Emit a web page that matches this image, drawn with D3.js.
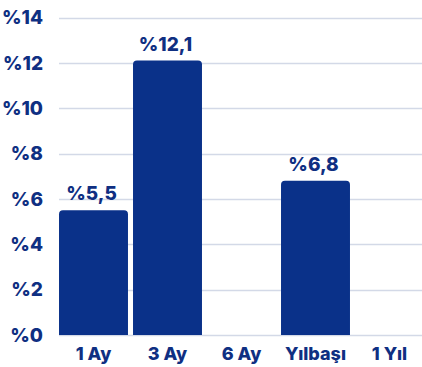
<!DOCTYPE html>
<html>
<head>
<meta charset="utf-8">
<script src="https://cdn.jsdelivr.net/npm/d3@7"></script>
<style>
  html, body { margin: 0; padding: 0; background: #fff; }
  svg { display: block; }
  text { font-family: Inter, "Open Sans", sans-serif; font-weight: 800; fill: #0f2f82; }
</style>
</head>
<body>
<svg id="chart" width="422" height="367"></svg>
<script>
// Periods and returns (percent); null means no value for that period
const categories = ["1 Ay", "3 Ay", "6 Ay", "Yılbaşı", "1 Yıl"];
const values = [5.5, 12.1, null, 6.8, null];
const valueLabels = ["%5,5", "%12,1", "", "%6,8", ""];
const yTicks = [0, 2, 4, 6, 8, 10, 12, 14];
const yTickLabels = ["%0", "%2", "%4", "%6", "%8", "%10", "%12", "%14"];

const svg = d3.select("#chart");
const W = 422, H = 367;
const plotLeft = 59, plotRight = 422, plotTop = 17.5, plotBottom = 335;

const x = d3.scaleBand()
  .domain(categories)
  .range([56.5, 426.5])
  .paddingInner(0.068)
  .paddingOuter(0.034);

const y = d3.scaleLinear().domain([0, 14]).range([plotBottom, plotTop]);

// Horizontal gridlines
svg.append("g")
  .selectAll("line")
  .data(yTicks)
  .join("line")
  .attr("x1", plotLeft)
  .attr("x2", plotRight)
  .attr("y1", d => Math.round(y(d)) + 0.5)
  .attr("y2", d => Math.round(y(d)) + 0.5)
  .attr("stroke", "#d3d9e7")
  .attr("stroke-width", 1.5);

// Y axis labels
svg.append("g")
  .selectAll("text")
  .data(yTicks)
  .join("text")
  .attr("x", 43)
  .attr("y", d => y(d))
  .attr("dy", "0.36em")
  .attr("text-anchor", "end")
  .attr("font-size", 19)
  .text((d, i) => yTickLabels[i]);

// Bars with rounded top corners
const r = 4;
const barData = categories.map((c, i) => ({ c, v: values[i], label: valueLabels[i] }))
  .filter(d => d.v != null);

function topRoundedRect(x0, y0, w, h, rad) {
  return `M${x0},${y0 + h}V${y0 + rad}Q${x0},${y0} ${x0 + rad},${y0}` +
    `H${x0 + w - rad}Q${x0 + w},${y0} ${x0 + w},${y0 + rad}V${y0 + h}Z`;
}

svg.append("g")
  .selectAll("path")
  .data(barData)
  .join("path")
  .attr("d", d => topRoundedRect(x(d.c), y(d.v), x.bandwidth(), y(0) - y(d.v), r))
  .attr("fill", "#0a3189");

// Value labels above bars
svg.append("g")
  .selectAll("text")
  .data(barData)
  .join("text")
  .attr("x", d => x(d.c) + x.bandwidth() / 2 - 2)
  .attr("y", d => y(d.v) - 10)
  .attr("text-anchor", "middle")
  .attr("font-size", 19)
  .text(d => d.label);

// Category labels
svg.append("g")
  .selectAll("text")
  .data(categories)
  .join("text")
  .attr("x", d => x(d) + x.bandwidth() / 2)
  .attr("y", 360)
  .attr("text-anchor", "middle")
  .attr("font-size", 18)
  .text(d => d);
</script>
</body>
</html>
